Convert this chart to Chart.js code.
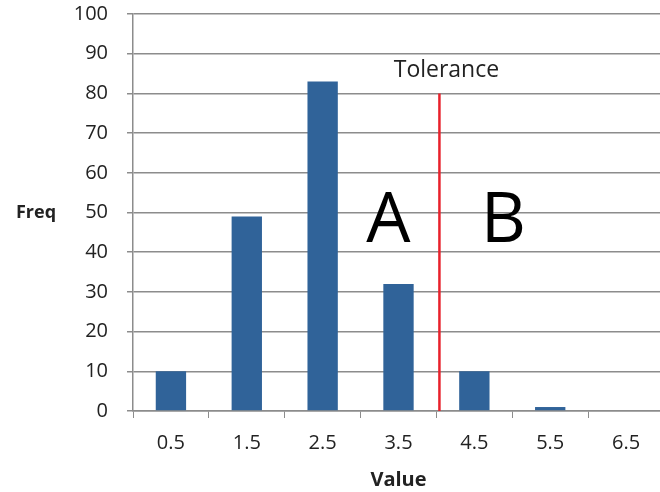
<!DOCTYPE html>
<html>
<head>
<meta charset="utf-8">
<script src="https://cdn.jsdelivr.net/npm/chart.js@4/dist/chart.umd.min.js"></script>
<style>
  html, body { margin: 0; padding: 0; background: #fff; overflow: hidden; }
  #wrap { width: 668px; height: 492px; position: relative; }
</style>
</head>
<body>
<div id="wrap"><canvas id="myChart"></canvas></div>
<script>
// chart data
var categories = ['0.5', '1.5', '2.5', '3.5', '4.5', '5.5', '6.5'];
var freqValues = [10, 49, 83, 32, 10, 1, 0];
var yTicks = [0, 10, 20, 30, 40, 50, 60, 70, 80, 90, 100];
var toleranceTop = 80;    // height of the red line
var regionLabels = ['A', 'B'];

var fontFam = "'Open Sans', 'Noto Sans', sans-serif";
var gridCol = '#8c8c8c';

// draws the tolerance line, its label, A/B and the horizontal y title
var extras = {
  id: 'extras',
  afterDatasetsDraw: function(chart) {
    var c = chart.ctx, x = chart.scales.x, y = chart.scales.y;
    // boundary between 3.5 and 4.5
    var lx = (x.getPixelForValue(3) + x.getPixelForValue(4)) / 2 + 3;
    c.save();
    c.strokeStyle = '#e8212b';
    c.lineWidth = 2.5;
    c.beginPath();
    c.moveTo(lx, y.getPixelForValue(toleranceTop));
    c.lineTo(lx, y.getPixelForValue(0));
    c.stroke();

    c.fillStyle = '#222';
    c.textAlign = 'center';
    c.textBaseline = 'middle';
    c.font = '23px ' + fontFam;
    c.fillText('Tolerance', lx + 7, 70);

    c.fillStyle = '#000';
    c.font = '70px ' + fontFam;
    c.fillText(regionLabels[0], lx - 51, 222);
    c.fillText(regionLabels[1], lx + 64, 222);

    c.font = 'bold 18px ' + fontFam;
    c.fillStyle = '#222';
    c.fillText('Freq', 36, y.getPixelForValue(50));
    c.restore();
  }
};

var ctx = document.getElementById('myChart');
var myChart = new Chart(ctx, {
  type: 'bar',
  data: {
    labels: categories,
    datasets: [{
      data: freqValues,
      backgroundColor: '#306399',
      barPercentage: 0.4,
      categoryPercentage: 1
    }]
  },
  options: {
    responsive: true,
    maintainAspectRatio: false,
    animation: false,
    layout: { padding: { left: 0, right: 4, top: 14, bottom: 0 } },
    plugins: { legend: { display: false }, tooltip: { enabled: false } },
    scales: {
      x: {
        grid: { drawOnChartArea: false, drawTicks: true, tickLength: 7, color: gridCol, offset: true },
        border: { color: gridCol, width: 1.5 },
        ticks: { color: '#222', padding: 13, font: { size: 20, family: fontFam } },
        title: { display: true, text: 'Value', color: '#222', font: { size: 20, weight: 'bold', family: fontFam }, padding: { top: 8, bottom: 0 } },
        afterFit: function(s) { s.height = 81; }
      },
      y: {
        min: 0,
        max: 100,
        afterBuildTicks: function(s) { s.ticks = yTicks.map(function(v) { return { value: v }; }); },
        grid: { color: gridCol, lineWidth: 1.5, tickLength: 6 },
        border: { color: gridCol, width: 1.5 },
        ticks: { color: '#222', padding: 19, font: { size: 20, family: fontFam } },
        afterFit: function(s) { s.width = 133; s.paddingTop = 0; s.paddingBottom = 0; }
      }
    }
  },
  plugins: [extras]
});
</script>
</body>
</html>
